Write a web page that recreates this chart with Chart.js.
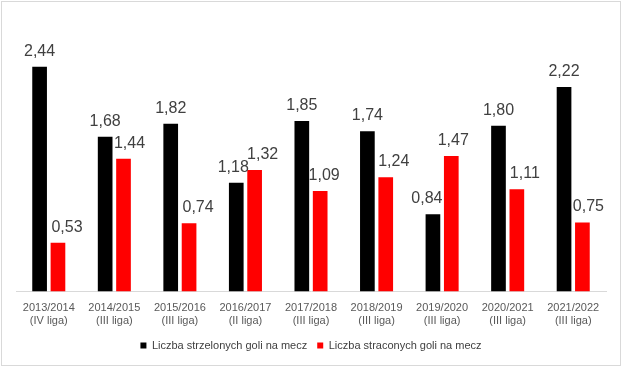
<!DOCTYPE html>
<html><head><meta charset="utf-8">
<script src="https://cdn.jsdelivr.net/npm/chart.js@4"></script>
<style>html,body{margin:0;padding:0;background:#fff}#wrap{width:623px;height:368px;position:relative}</style>
</head><body><div id="wrap"><canvas id="c" width="623" height="368"></canvas></div>
<script>
const seasons = ['2013/2014','2014/2015','2015/2016','2016/2017','2017/2018','2018/2019','2019/2020','2020/2021','2021/2022'];
const leagues = ['(IV liga)','(III liga)','(III liga)','(II liga)','(III liga)','(III liga)','(III liga)','(III liga)','(III liga)'];
const scored = [2.44,1.68,1.82,1.18,1.85,1.74,0.84,1.80,2.22];
const conceded = [0.53,1.44,0.74,1.32,1.09,1.24,1.47,1.11,0.75];
const seriesNames = ['Liczba strzelonych goli na mecz','Liczba straconych goli na mecz'];

const FONT = "'Liberation Sans', Arial, sans-serif";
// horizontal nudges of the value labels (styling only)
const labelShift = [
  [0, 0, 0, -3, 0, 0, -6, 0, 0],
  [9, 6, 9, 8, 4, 8, 2, 8, 6]
];
const labelPlugin = {
  id: 'vlabels',
  afterDatasetsDraw(chart) {
    const ctx = chart.ctx;
    ctx.save();
    ctx.font = '16px ' + FONT;
    ctx.fillStyle = '#404040';
    ctx.textAlign = 'center';
    ctx.textBaseline = 'alphabetic';
    chart.data.datasets.forEach((ds, i) => {
      chart.getDatasetMeta(i).data.forEach((bar, j) => {
        ctx.fillText(ds.data[j].toFixed(2).replace('.', ','), bar.x + labelShift[i][j], bar.y - 11);
      });
    });
    ctx.restore();
  },
  beforeDraw(chart) {
    const ctx = chart.ctx;
    ctx.save();
    ctx.strokeStyle = '#d9d9d9';
    ctx.lineWidth = 1;
    ctx.strokeRect(1.5, 1.5, 619, 364);
    ctx.restore();
  }
};

new Chart(document.getElementById('c'), {
  type: 'bar',
  data: {
    labels: seasons.map((s, i) => [s, leagues[i]]),
    datasets: [
      { label: seriesNames[0], data: scored, backgroundColor: '#000000', barPercentage: 0.8, categoryPercentage: 0.56 },
      { label: seriesNames[1], data: conceded, backgroundColor: '#ff0000', barPercentage: 0.8, categoryPercentage: 0.56 }
    ]
  },
  options: {
    responsive: false,
    animation: false,
    layout: { padding: { left: 16, right: 17, top: 15, bottom: 7 } },
    scales: {
      y: { display: false, min: 0, max: 3 },
      x: {
        grid: { display: false },
        border: { color: '#d9d9d9' },
        ticks: { color: '#595959', font: { family: FONT, size: 11 }, padding: 2, maxRotation: 0 }
      }
    },
    plugins: {
      tooltip: { enabled: false },
      legend: {
        position: 'bottom',
        labels: { boxWidth: 6, boxHeight: 6, color: '#404040', font: { family: FONT, size: 11 }, padding: 10 }
      }
    }
  },
  plugins: [labelPlugin]
});
</script></body></html>
